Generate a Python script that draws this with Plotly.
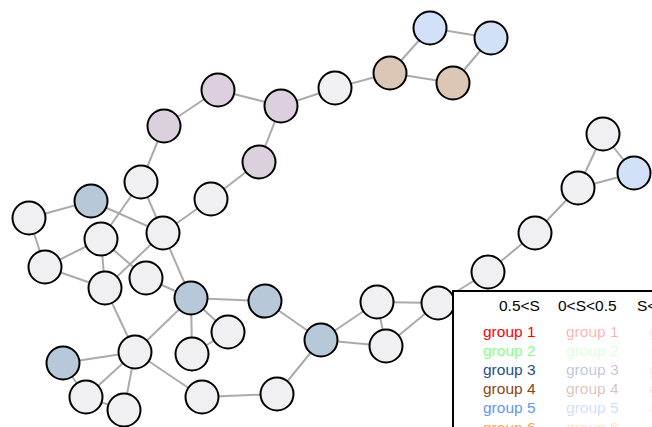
import plotly.graph_objects as go

# Node layout (pixel-like layout coordinates) and category
node_x = [29, 91, 141, 101, 163, 211, 259, 45, 105, 146, 191, 265, 321, 228, 192, 135, 63, 86, 124, 202, 277,
          164, 218, 281, 335, 390, 430, 491, 453, 603, 634, 578, 535, 488, 438, 377, 386]
node_y = [218, 201, 182, 239, 233, 199, 162, 267, 288, 278, 298, 301, 340, 332, 354, 352, 363, 397, 410, 397, 394,
          126, 90, 106, 88, 73, 28, 38, 83, 134, 173, 188, 233, 272, 303, 302, 346]
node_cat = ["n", "g3", "n", "n", "n", "n", "g7", "n", "n", "n", "g3", "g3", "g3", "n", "n", "n", "g3", "n", "n", "n", "n",
            "g7", "g7", "g7", "n", "g4", "g5", "g5", "g4", "n", "g5", "n", "n", "n", "n", "n", "n"]

edges = [(0, 1), (0, 7), (1, 4), (2, 3), (2, 4), (2, 21), (3, 7), (3, 8), (3, 9), (4, 8), (4, 5), (5, 6),
         (4, 10), (9, 10), (8, 15), (7, 8), (10, 11), (10, 13), (10, 14), (10, 15), (11, 12), (13, 14),
         (15, 16), (15, 17), (15, 18), (15, 19), (16, 17), (17, 18), (19, 20), (20, 12), (12, 35), (12, 36),
         (35, 36), (35, 34), (36, 34), (34, 33), (33, 32), (32, 31), (31, 29), (31, 30), (29, 30),
         (21, 22), (22, 23), (23, 6), (23, 24), (24, 25), (25, 26), (26, 27), (27, 28), (25, 28)]

cat_fill = {"n": "#f0eff2", "g3": "#b7c9d9", "g4": "#dcc6b5", "g5": "#d2e0f8", "g7": "#dcd0de"}

# Legend content
legend_headers = ["0.5<S", "0<S<0.5", "S<0"]
legend_groups = ["group 1", "group 2", "group 3", "group 4", "group 5", "group 6"]
group_rgb = [(255, 0, 0), (136, 255, 136), (31, 78, 140), (139, 69, 19), (100, 149, 237), (244, 164, 96)]
col_alpha = [1.0, 0.32, 0.1]

ex, ey = [], []
for a, b in edges:
    ex += [node_x[a], node_x[b], None]
    ey += [node_y[a], node_y[b], None]

fig = go.Figure()
fig.add_trace(go.Scatter(x=ex, y=ey, mode="lines", line=dict(color="#ababab", width=2),
                         hoverinfo="skip", showlegend=False))
fig.add_trace(go.Scatter(x=node_x, y=node_y, mode="markers",
                         marker=dict(size=33, color=[cat_fill[c] for c in node_cat],
                                     line=dict(color="black", width=2)),
                         showlegend=False))

W, H = 652, 427
fig.update_layout(width=W, height=H, margin=dict(l=0, r=0, t=0, b=0),
                  plot_bgcolor="white", paper_bgcolor="white",
                  xaxis=dict(range=[0, W], visible=False, fixedrange=True),
                  yaxis=dict(range=[H, 0], visible=False, fixedrange=True),
                  font=dict(family="Liberation Sans, Arial, sans-serif"))

# Legend box
fig.add_shape(type="rect", xref="paper", yref="paper", x0=453 / W, x1=1.3, y0=-0.3, y1=1 - 291 / H,
              line=dict(color="black", width=2), fillcolor="white", layer="above")

header_left = [497, 556, 635]
col_left = [481, 564, 647]
for j, h in enumerate(legend_headers):
    fig.add_annotation(xref="paper", yref="paper", x=header_left[j] / W, y=1 - 305 / H, text=h,
                       showarrow=False, xanchor="left", yanchor="middle",
                       font=dict(size=15.5, color="black"))
for i, g in enumerate(legend_groups):
    r, gg, b = group_rgb[i]
    for j in range(3):
        a = col_alpha[j]
        fig.add_annotation(xref="paper", yref="paper", x=col_left[j] / W, y=1 - (331 + 19.2 * i) / H, text=g,
                           showarrow=False, xanchor="left", yanchor="middle",
                           font=dict(size=15.5, color=f"rgba({r},{gg},{b},{a})"))

fig.write_html("out.html", config={"displayModeBar": False},
               post_script="document.body.style.margin='0';document.body.style.overflow='hidden';")
